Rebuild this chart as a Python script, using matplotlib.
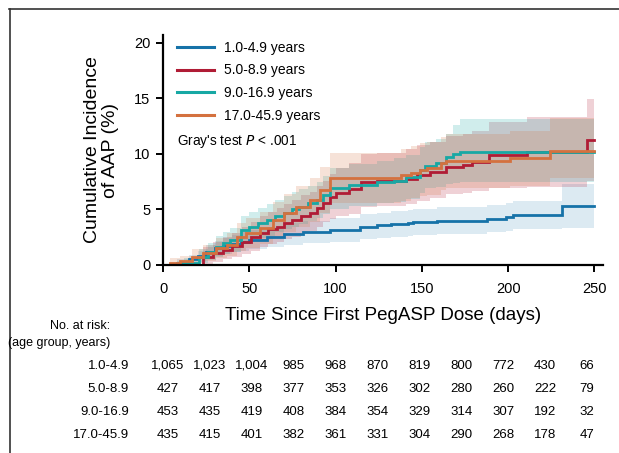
import matplotlib
matplotlib.use("Agg")
import matplotlib.pyplot as plt
from matplotlib.lines import Line2D

# ---------------- data ----------------
groups = ["1.0-4.9 years", "5.0-8.9 years", "9.0-16.9 years", "17.0-45.9 years"]
group_short = ["1.0-4.9", "5.0-8.9", "9.0-16.9", "17.0-45.9"]
colors = ["#1672a8", "#b01c35", "#17a8a4", "#d4713f"]

blue_t = [0, 8, 15, 20, 25, 30, 35, 40, 45, 50, 60, 70, 81, 97, 114, 124, 132, 142, 145, 159, 188, 199, 203, 231, 250]
blue_est = [0, 0.2, 0.5, 0.8, 1.2, 1.5, 1.7, 1.9, 2.1, 2.25, 2.5, 2.75, 3.0, 3.15, 3.45, 3.57, 3.7, 3.8, 3.9, 4.0, 4.17, 4.35, 4.5, 5.35, 5.35]
blue_lo = [0, 0, 0.1, 0.3, 0.6, 0.85, 1.0, 1.15, 1.3, 1.4, 1.6, 1.8, 2.0, 2.1, 2.35, 2.45, 2.55, 2.65, 2.7, 2.8, 2.95, 3.05, 3.2, 3.3, 3.3]
blue_hi = [0, 0.5, 0.9, 1.3, 1.8, 2.2, 2.45, 2.7, 2.95, 3.15, 3.45, 3.75, 4.0, 4.2, 4.55, 4.7, 4.85, 4.95, 5.05, 5.2, 5.4, 5.6, 5.8, 7.3, 7.3]

red_t = [0, 23, 29, 35, 40, 46, 51, 56, 61, 66, 70, 75, 80, 85, 89, 93, 97, 100, 108, 115, 124, 141, 147, 155, 164, 174, 179, 189, 211, 246, 250]
red_est = [0, 0.75, 1.08, 1.35, 1.7, 2.1, 2.5, 2.9, 3.2, 3.45, 3.75, 4.05, 4.4, 4.7, 5.1, 5.6, 6.1, 6.5, 6.8, 7.5, 7.6, 7.75, 8.1, 8.4, 8.85, 9.0, 9.3, 9.9, 10.2, 11.26, 11.26]
red_lo = [0, 0.1, 0.3, 0.5, 0.7, 1.0, 1.3, 1.6, 1.85, 2.05, 2.3, 2.55, 2.85, 3.1, 3.45, 3.85, 4.15, 4.4, 4.6, 5.2, 5.3, 5.45, 5.75, 6.0, 6.4, 6.5, 6.7, 6.9, 7.0, 7.6, 7.6]
red_hi = [0, 1.6, 2.1, 2.5, 2.9, 3.4, 3.9, 4.4, 4.8, 5.1, 5.5, 5.85, 6.3, 6.6, 7.1, 7.6, 8.2, 8.7, 9.2, 10.0, 10.1, 10.4, 10.8, 11.1, 11.6, 11.8, 12.1, 12.9, 13.3, 14.9, 14.9]

teal_t = [0, 8, 12, 21, 26, 31, 35, 39, 45, 50, 55, 60, 65, 70, 75, 79, 84, 89, 93, 97, 108, 124, 134, 141, 149, 152, 158, 164, 168, 172, 250]
teal_est = [0, 0.1, 0.2, 0.75, 1.2, 1.65, 1.95, 2.25, 3.15, 3.45, 3.75, 4.05, 4.4, 4.7, 5.0, 5.25, 5.55, 5.85, 6.3, 6.9, 7.2, 7.45, 7.6, 7.9, 8.55, 8.95, 9.15, 9.7, 9.95, 10.2, 10.2]
teal_lo = [0, 0, 0, 0.2, 0.45, 0.75, 0.95, 1.2, 1.9, 2.15, 2.4, 2.65, 2.95, 3.2, 3.45, 3.7, 3.95, 4.2, 4.55, 5.05, 5.3, 5.6, 5.7, 5.9, 6.5, 6.9, 7.0, 7.3, 7.4, 7.5, 7.5]
teal_hi = [0, 0.4, 0.6, 1.4, 2.0, 2.6, 2.95, 3.3, 4.4, 4.75, 5.1, 5.45, 5.85, 6.2, 6.55, 6.8, 7.15, 7.5, 8.0, 8.7, 9.1, 9.4, 9.6, 9.9, 10.6, 11.1, 11.3, 11.8, 12.6, 13.1, 13.1]

orange_t = [0, 4, 10, 17, 23, 31, 37, 43, 48, 56, 64, 70, 77, 85, 91, 97, 138, 144, 149, 153, 161, 164, 201, 224, 250]
orange_est = [0, 0.2, 0.35, 0.75, 1.05, 1.5, 1.8, 2.55, 2.85, 3.3, 4.05, 4.7, 5.25, 5.85, 6.75, 7.8, 8.1, 8.3, 8.55, 8.7, 9.15, 9.35, 9.6, 10.3, 10.3]
orange_lo = [0, 0, 0, 0.2, 0.35, 0.6, 0.8, 1.3, 1.5, 1.85, 2.45, 2.95, 3.4, 3.9, 4.65, 5.55, 5.8, 6.0, 6.2, 6.3, 6.75, 6.9, 7.1, 7.8, 7.8]
orange_hi = [0, 0.6, 0.8, 1.4, 1.8, 2.45, 2.85, 3.8, 4.2, 4.75, 5.65, 6.4, 7.1, 7.8, 8.85, 10.1, 10.45, 10.7, 10.95, 11.1, 11.55, 11.8, 12.1, 13.2, 13.2]

risk_times = [0, 25, 50, 75, 100, 125, 150, 175, 200, 225, 250]
risk_blue = ["1,065", "1,023", "1,004", "985", "968", "870", "819", "800", "772", "430", "66"]
risk_red = ["427", "417", "398", "377", "353", "326", "302", "280", "260", "222", "79"]
risk_teal = ["453", "435", "419", "408", "384", "354", "329", "314", "307", "192", "32"]
risk_orange = ["435", "415", "401", "382", "361", "331", "304", "290", "268", "178", "47"]

xticks = [0, 50, 100, 150, 200, 250]
yticks = [0, 5, 10, 15, 20]

# ---------------- figure ----------------
W, H = 619, 453
plt.rcParams["font.family"] = ["Liberation Sans", "DejaVu Sans"]
fig = plt.figure(figsize=(W / 100, H / 100), dpi=100)


def fx(px):
    return px / W


def fy(py):
    return 1 - py / H


ax = fig.add_axes([fx(163), fy(265), fx(603) - fx(163), fy(35) - fy(265)])
ax.set_xlim(0, 255)
ax.set_ylim(0, 20.7)

series = [
    (blue_t, blue_est, blue_lo, blue_hi),
    (red_t, red_est, red_lo, red_hi),
    (teal_t, teal_est, teal_lo, teal_hi),
    (orange_t, orange_est, orange_lo, orange_hi),
]
alphas = [0.15, 0.2, 0.2, 0.2]
for (t, e, lo, hi), c, a in zip(series, colors, alphas):
    ax.fill_between(t, lo, hi, step="post", color=c, alpha=a, linewidth=0)
for (t, e, lo, hi), c in zip(series, colors):
    ax.step(t, e, where="post", color=c, linewidth=2.0, solid_joinstyle="miter")

for s in ["top", "right"]:
    ax.spines[s].set_visible(False)
for s in ["left", "bottom"]:
    ax.spines[s].set_linewidth(1.6)
ax.set_xticks(xticks)
ax.set_yticks(yticks)
ax.tick_params(axis="both", length=5, width=1.4, labelsize=10.5, pad=4)
ax.tick_params(axis="x", pad=7)

ax.set_xlabel("Time Since First PegASP Dose (days)", fontsize=13.5, labelpad=8)
ax.set_ylabel("Cumulative Incidence\nof AAP (%)", fontsize=14, labelpad=11,
              linespacing=1.05)

handles = [Line2D([0], [0], color=c, linewidth=2.2) for c in colors]
ax.legend(handles, groups, loc="upper left", bbox_to_anchor=(0.0, 1.035),
          frameon=False, fontsize=10, handlelength=2.7, handletextpad=0.7,
          labelspacing=0.62, borderaxespad=0.6)
fig.text(fx(177), fy(141), "Gray's test $\\it{P}$ < .001", fontsize=9.8,
         va="center", ha="left")

# at-risk table
fig.text(fx(110), fy(326), "No. at risk:", ha="right", va="center", fontsize=9)
fig.text(fx(110), fy(343), "(age group, years)", ha="right", va="center", fontsize=9)
rows = [risk_blue, risk_red, risk_teal, risk_orange]
row_y = [366, 389, 412, 435]
for lab, vals, yy in zip(group_short, rows, row_y):
    fig.text(fx(129), fy(yy), lab, ha="right", va="center", fontsize=9.5)
    for i, v in enumerate(vals):
        fig.text(fx(168 + i * 41.9), fy(yy), v, ha="center", va="center",
                 fontsize=9.5)

# frame border (cropped)
fig.add_artist(Line2D([fx(9), 1.0], [fy(8.5), fy(8.5)], transform=fig.transFigure,
                      color="#333333", linewidth=1.2))
fig.add_artist(Line2D([fx(9.5), fx(9.5)], [fy(8.5), 0.0], transform=fig.transFigure,
                      color="#333333", linewidth=1.2))

fig.savefig("out.png", dpi=100)
